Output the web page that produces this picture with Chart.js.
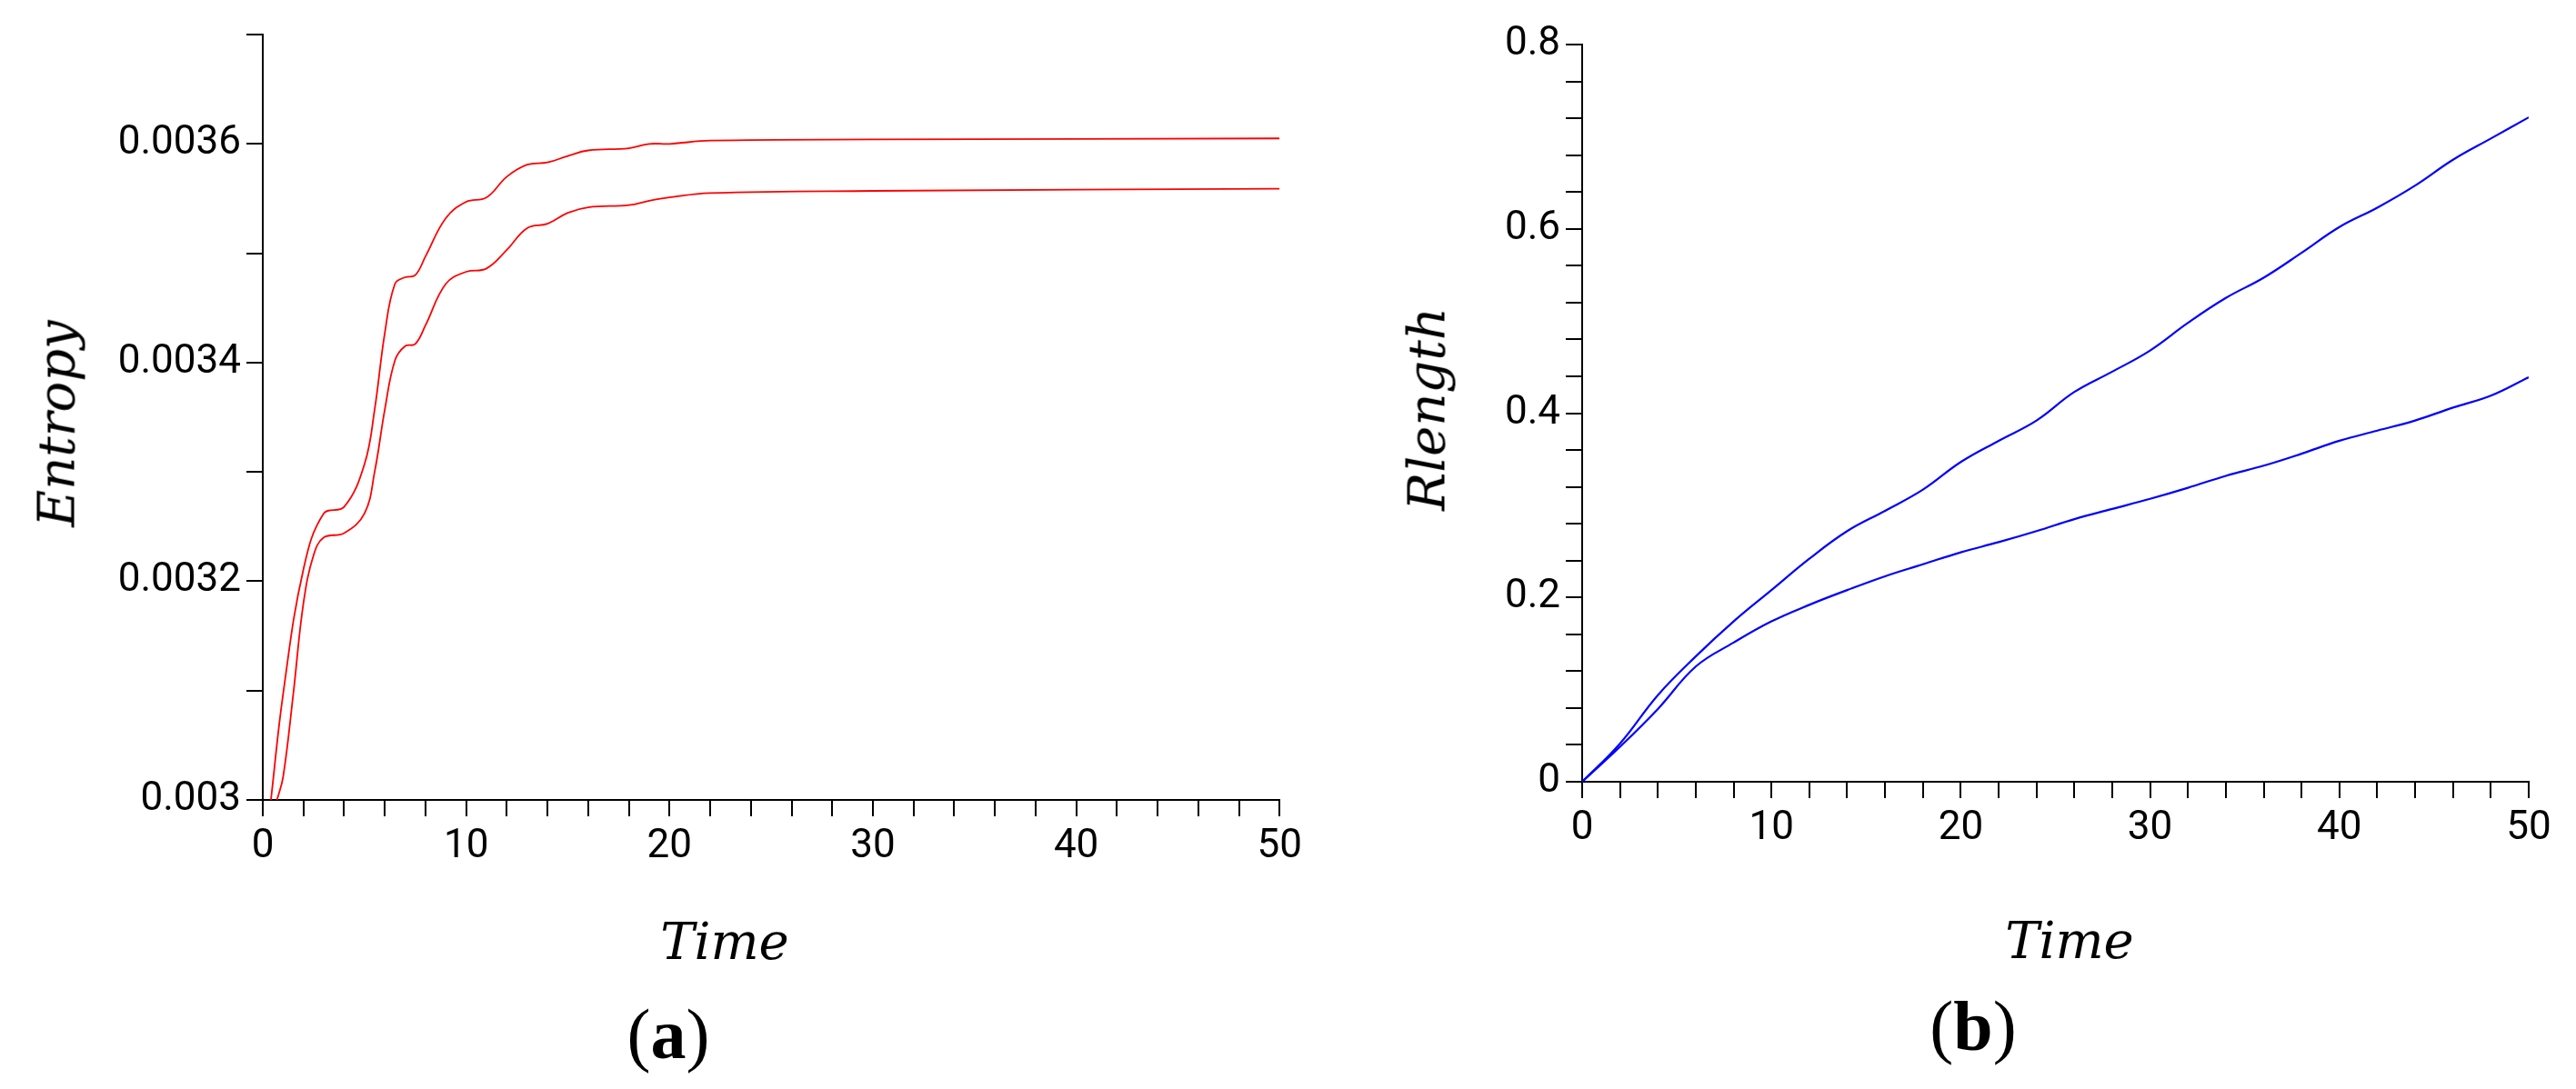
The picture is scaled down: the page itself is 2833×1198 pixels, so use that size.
<!DOCTYPE html>
<html>
<head>
<meta charset="utf-8">
<script src="https://cdn.jsdelivr.net/npm/chart.js@4"></script>
<style>
  body { margin:0; background:#fff; width:2833px; height:1198px; position:relative; overflow:hidden; }
  canvas { position:absolute; top:0; }
  .lbl { position:absolute; transform:translate(-50%,-50%); white-space:nowrap; color:#000; }
  .ttl { font-family:'DejaVu Serif', serif; font-style:italic; font-size:56px; }
  .pan { font-family:'Liberation Serif', serif; font-size:78px; }
</style>
</head>
<body>
<canvas id="gA" width="1440" height="960" style="left:0"></canvas>
<canvas id="gB" width="1383" height="940" style="left:1450px"></canvas>
<div class="lbl ttl" style="left:62px;top:466px;transform:translate(-50%,-50%) rotate(-90deg)">Entropy</div>
<div class="lbl ttl" style="left:797px;top:1035px">Time</div>
<div class="lbl pan" style="left:735px;top:1138px">(<b>a</b>)</div>
<div class="lbl ttl" style="left:1569px;top:450px;transform:translate(-50%,-50%) rotate(-90deg)">Rlength</div>
<div class="lbl ttl" style="left:2276px;top:1034px">Time</div>
<div class="lbl pan" style="left:2170px;top:1129px">(<b>b</b>)</div>
<script>
// (a) entropy, two runs
const tUpper   = [0.4, 1, 2, 3, 4, 5, 5.5, 6, 6.5, 7, 7.5, 8, 9, 10, 11, 12, 13, 14, 15, 16, 18, 19, 20, 22, 30, 50];
const entUpper = [0.003, 0.003097, 0.003211, 0.003262, 0.003268, 0.003307, 0.003357, 0.003427, 0.003472, 0.003478, 0.00348, 0.003497, 0.003532, 0.003547, 0.003551, 0.00357, 0.003581, 0.003583, 0.003589, 0.003594, 0.003596, 0.0036, 0.0036, 0.003603, 0.003604, 0.003605];
const tLower   = [0.7, 1, 1.5, 2, 2.5, 3, 4, 5, 5.5, 6, 6.5, 7, 7.5, 8, 9, 10, 11, 12, 13, 14, 15, 16, 18, 19, 20, 22, 30, 50];
const entLower = [0.003, 0.003021, 0.003097, 0.00318, 0.003224, 0.00324, 0.003244, 0.003262, 0.0033, 0.003357, 0.003402, 0.003415, 0.003417, 0.003434, 0.003472, 0.003483, 0.003486, 0.003503, 0.003523, 0.003527, 0.003537, 0.003542, 0.003544, 0.003548, 0.003551, 0.003555, 0.003557, 0.003559];

// (b) Rlength, two runs
const tR      = [0, 2, 4, 6, 8, 10, 12, 14, 16, 18, 20, 22, 24, 26, 28, 30, 32, 34, 36, 38, 40, 42, 44, 46, 48, 50];
const rUpper  = [0, 0.0415, 0.094, 0.136, 0.174, 0.208, 0.242, 0.272, 0.294, 0.317, 0.347, 0.370, 0.392, 0.423, 0.445, 0.468, 0.498, 0.525, 0.547, 0.574, 0.602, 0.623, 0.647, 0.675, 0.698, 0.721];
const rLower  = [0, 0.038, 0.079, 0.125, 0.151, 0.174, 0.192, 0.208, 0.223, 0.236, 0.249, 0.260, 0.272, 0.285, 0.296, 0.307, 0.319, 0.332, 0.343, 0.356, 0.370, 0.381, 0.392, 0.406, 0.419, 0.439];

const TICK_FONT = { family: "'Roboto', sans-serif", size: 44 };
const pts = (xs, ys) => xs.map((x, i) => ({ x, y: ys[i] }));

function axis(extra) {
  return Object.assign({
    type: 'linear',
    border: { color: '#000', width: 2 },
    grid: { drawOnChartArea: false, drawTicks: true, tickLength: 18, color: '#000', lineWidth: 2 },
  }, extra);
}

function xAxis() {
  return axis({
    min: 0, max: 50,
    afterFit: s => { s.height = 80; },
    ticks: { color: '#000', font: TICK_FONT, padding: 8, maxRotation: 0, autoSkip: false, stepSize: 2,
      callback: v => (v % 10 === 0 ? String(v) : '') },
  });
}

function makeChart(id, datasets, yOpts, yWidth, pad) {
  new Chart(document.getElementById(id), {
    type: 'scatter',
    data: { datasets },
    options: {
      responsive: false, animation: false, devicePixelRatio: 1,
      layout: { padding: pad },
      plugins: { legend: { display: false }, tooltip: { enabled: false } },
      scales: { x: xAxis(), y: axis(Object.assign({ afterFit: s => { s.width = yWidth; } }, yOpts)) },
    },
  });
}

const line = (data, color, w) => ({ data, showLine: true, borderColor: color, borderWidth: w, pointRadius: 0, tension: 0.4, fill: false });

makeChart('gA',
  [line(pts(tUpper, entUpper), '#ff0000', 1.8), line(pts(tLower, entLower), '#ff0000', 1.8)],
  { min: 0.003, max: 0.0037,
    ticks: { color: '#000', font: TICK_FONT, padding: 6, stepSize: 0.0001, autoSkip: false,
      callback: v => (Math.round(v * 1e4) % 2 === 0 ? String(parseFloat(v.toFixed(4))) : '') } },
  289, { top: 38, right: 28, left: 0, bottom: 0 });

makeChart('gB',
  [line(pts(tR, rUpper), '#0000ff', 2.2), line(pts(tR, rLower), '#0000ff', 2.2)],
  { min: 0, max: 0.8,
    ticks: { color: '#000', font: TICK_FONT, padding: 6, stepSize: 0.04, autoSkip: false,
      callback: v => (Math.round(v / 0.04) % 5 === 0 ? String(parseFloat(v.toFixed(2))) : '') } },
  290, { top: 49, right: 52, left: 0, bottom: 0 });
</script>
</body>
</html>
